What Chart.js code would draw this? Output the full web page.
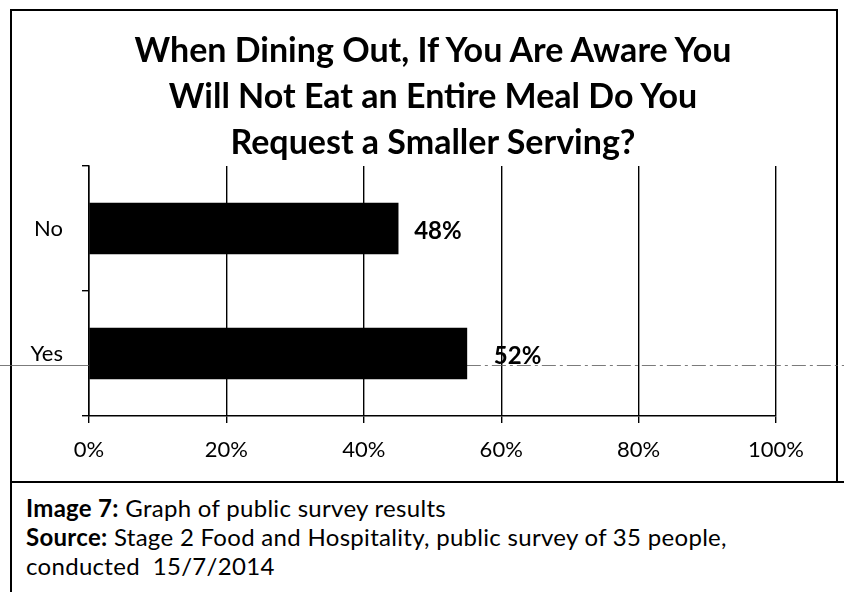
<!DOCTYPE html>
<html>
<head>
<meta charset="utf-8">
<script src="https://cdn.jsdelivr.net/npm/chart.js@4.4.1/dist/chart.umd.min.js"></script>
<style>
  html, body { margin: 0; padding: 0; background: #fff; }
  #page { position: relative; width: 844px; height: 592px; overflow: hidden; font-family: Lato, "DejaVu Sans", sans-serif; color: #000; }
  #frame { position: absolute; left: 10px; top: 9px; width: 828px; height: 474px; box-sizing: border-box; border: 2px solid #000; }
  #capbox { position: absolute; left: 10px; top: 481px; width: 834px; height: 111px; box-sizing: border-box; border-left: 2px solid #000; border-top: 2px solid #000; }
  #title { position: absolute; left: 0; top: 26px; width: 866px; text-align: center; font-weight: bold; font-size: 34px; line-height: 46px; }
  #caption { position: absolute; left: 26px; top: 493px; font-size: 24px; line-height: 29px; letter-spacing: 0.3px; }
  #chart { position: absolute; left: 0; top: 0; }
</style>
</head>
<body>
<div id="page">
  <div id="frame"></div>
  <div id="capbox"></div>
  <canvas id="chart" width="844" height="482"></canvas>
  <div id="title">When Dining Out, If You Are Aware You<br>Will Not Eat an Entire Meal Do You<br>Request a Smaller Serving?</div>
  <div id="caption"><b>Image 7:</b> Graph of public survey results<br><b>Source:</b> Stage 2 Food and Hospitality, public survey of 35 people,<br>conducted&nbsp; 15/7/2014</div>
</div>
<script>
// answers, top to bottom
const answers = ["No", "Yes"];
// bar lengths as drawn in the scan (percent)
const barValues = [45, 55];
// printed data labels
const valueLabels = ["48%", "52%"];
const xTicks = [0, 20, 40, 60, 80, 100];

// gap between bar end and its label (the scan isn't consistent)
const labelGap = [16, 27];

const valueLabelPlugin = {
  id: "valueLabels",
  beforeDatasetsDraw(chart) {
    // faint scanner line running across the page
    const ctx = chart.ctx;
    const y = 365.5;
    const barEnd = chart.scales.x.getPixelForValue(barValues[1]);
    ctx.save();
    ctx.strokeStyle = "rgba(90,90,90,0.8)";
    ctx.lineWidth = 1;
    ctx.beginPath();
    ctx.moveTo(0, y);
    ctx.lineTo(barEnd, y);
    ctx.stroke();
    // broken up on the right hand side
    ctx.setLineDash([14, 4, 3, 4]);
    ctx.beginPath();
    ctx.moveTo(barEnd, y);
    ctx.lineTo(chart.width, y);
    ctx.stroke();
    ctx.restore();
  },
  afterDatasetsDraw(chart) {
    const ctx = chart.ctx;
    const meta = chart.getDatasetMeta(0);
    ctx.save();
    ctx.font = "bold 24px Lato";
    ctx.fillStyle = "#000";
    ctx.textAlign = "left";
    ctx.textBaseline = "middle";
    meta.data.forEach((bar, i) => {
      ctx.fillText(valueLabels[i], bar.x + labelGap[i], bar.y + 3);
    });
    ctx.restore();
  },
};

const ctx = document.getElementById("chart").getContext("2d");
const myChart = new Chart(ctx, {
  type: "bar",
  data: {
    labels: answers,
    datasets: [
      {
        data: barValues,
        backgroundColor: "#000",
        borderWidth: 0,
        barThickness: 51,
      },
    ],
  },
  options: {
    indexAxis: "y",
    responsive: false,
    animation: false,
    layout: { padding: { top: 166, left: 0, right: 68, bottom: 16 } },
    plugins: {
      legend: { display: false },
      tooltip: { enabled: false },
      title: { display: false },
    },
    scales: {
      x: {
        min: 0,
        max: 100,
        afterBuildTicks: (scale) => {
          scale.ticks = xTicks.map((v) => ({ value: v }));
        },
        afterFit: (scale) => {
          scale.height = 50;
        },
        ticks: {
          callback: (v) => v + "%",
          color: "#000",
          font: { family: "Lato", size: 22 },
          padding: 14,
          maxRotation: 0,
        },
        grid: { color: "#000", lineWidth: 1.4, tickLength: 7 },
        border: { display: true, color: "#000", width: 1.5 },
      },
      y: {
        afterFit: (scale) => {
          scale.width = 89;
        },
        ticks: {
          color: "#000",
          font: { family: "Lato", size: 22 },
          padding: 19,
        },
        grid: { drawOnChartArea: false, color: "#000", lineWidth: 1.4, tickLength: 7 },
        border: { display: true, color: "#000", width: 1.5 },
      },
    },
  },
  plugins: [valueLabelPlugin],
});
</script>
</body>
</html>
